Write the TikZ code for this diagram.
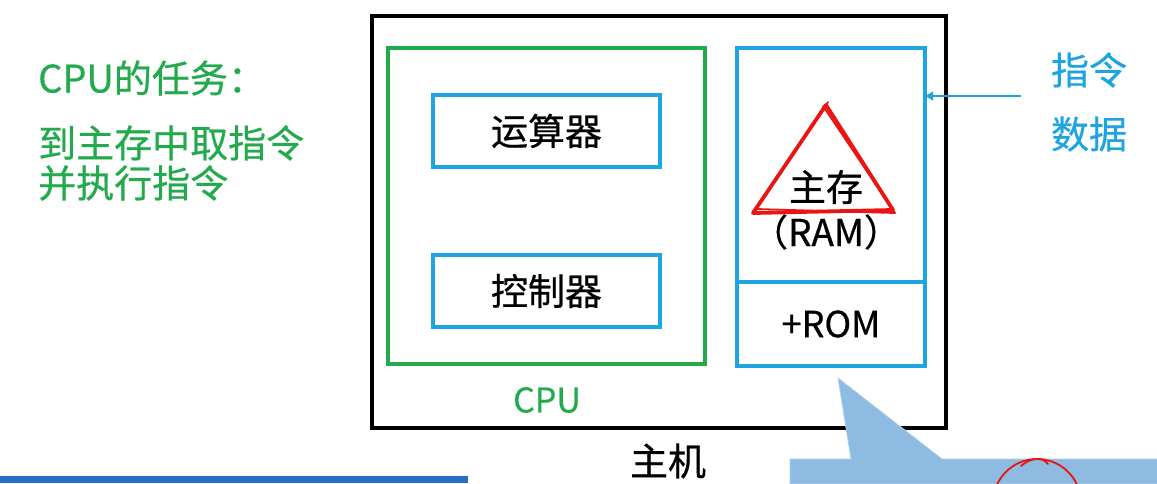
\documentclass[tikz,border=0pt]{standalone}
\usepackage{fontspec}
\setmainfont{Noto Sans CJK SC}[FakeBold=0.7, AutoFakeBold=0]
\newfontfamily\plainfont{Noto Sans CJK SC}[UprightFeatures={FakeBold=0.6}]
\usepackage{tikz}
\usetikzlibrary{arrows,positioning,calc}
\definecolor{CpuGreen}{RGB}{34,170,76}
\definecolor{BoxBlue}{RGB}{30,165,225}
\definecolor{NoteBlue}{RGB}{142,187,226}
\definecolor{BarBlue}{RGB}{40,110,200}
\definecolor{InkRed}{RGB}{235,20,20}
\tikzstyle{host} = [rectangle, draw, black, line width=4pt, inner sep=0pt, outer sep=0pt]
\tikzstyle{cpu} = [rectangle, draw=CpuGreen, line width=3.5pt, inner sep=0pt, outer sep=0pt]
\tikzstyle{unit} = [rectangle, draw=BoxBlue, line width=3.5pt, inner sep=0pt,
minimum width=227pt, minimum height=72pt,
font=\plainfont\fontsize{37}{40}\selectfont]
\tikzstyle{memory} = [rectangle, draw=BoxBlue, line width=3.5pt, inner sep=0pt, outer sep=0pt,
minimum width=188pt]
\tikzstyle{mem text} = [inner sep=0pt, font=\plainfont\fontsize{37}{40}\selectfont]
\tikzstyle{task text} = [text=CpuGreen, anchor=west, align=left, inner sep=0pt,
font=\plainfont\fontsize{38}{40}\selectfont]
\tikzstyle{note text} = [text=BoxBlue, inner sep=0pt, font=\plainfont\fontsize{38}{42}\selectfont]
\tikzstyle{sketch} = [draw=InkRed, line width=3.8pt, line join=round, line cap=round]

\begin{document}
\begin{tikzpicture}[x=1pt, y=-1pt, node distance=45pt]
	\useasboundingbox (0,0) rectangle (1157,483);

	% the host and its parts
	\node[host, minimum width=574pt, minimum height=412pt] (host) at (659,222) {};
	\node[cpu, minimum width=317pt, minimum height=316pt] (cpu) at (546.5,206) {};
	\node[unit] (alu) at (546.5,131) {运算器};
	\node[unit] (ctrl) at (546.5,291) {控制器};
	\node[memory, minimum height=234pt] (ram) at (831,165) {};
	\node[memory, minimum height=84pt, below=0pt of ram, font=\plainfont\fontsize{36}{40}\selectfont] (rom) {+ROM};
	\node[mem text] (mainmem) at (826,187) {主存};
	\node[mem text] (ramtag) [below of=mainmem] {（RAM）};

	\node[text=CpuGreen, font=\plainfont\fontsize{34}{38}\selectfont] (cpuname) at (547,400) {CPU};
	\node[font=\plainfont\fontsize{38}{40}\selectfont] (hostname) at (668,461) {主机};

	% what the cpu does
	\node[task text] (task) at (38,78) {CPU的任务：};
	\node[task text] (steps) at (38,163) {到主存中取指令\\并执行指令};

	% instructions and data go into memory
	\node[note text] (instr) at (1089,70) {指令};
	\node[note text] (data) [below of=instr, node distance=64pt] {数据};
	\coordinate (feed) at (1021,96);
	\draw[BoxBlue, line width=1.2pt, -triangle 60] (feed) -- (feed -| ram.east);

	% hand drawn marks
	\coordinate (apex) at (826,105);
	\coordinate (corner l) at (753,213);
	\coordinate (corner r) at (893,210);
	\draw[sketch] (apex) -- (corner l) -- (corner r) -- cycle;
	\draw[sketch, line width=1.8pt] ($(apex)+(2,-3)$) -- ($(corner l)+(3,-4)$) -- ($(corner r)+(2,3)$) -- ($(apex)+(-3,1)$);

	% slide leftovers along the bottom
	\fill[BarBlue] (0,476) rectangle (468,483);
	\coordinate (tip) at (838,378);
	\fill[NoteBlue, draw=NoteBlue!70!white, line width=0.8pt]
		(790,484) -- (790,459) -- (851,459) -- (tip) -- (942,459) -- (1158,459) -- (1158,484) -- cycle;
	\begin{scope}
		\clip (0,0) rectangle (1157,483);
		\draw[sketch, line width=1.8pt] (1037,503) circle (44);
		\draw[sketch, line width=1.8pt] (1021,466) .. controls (1030,458) and (1042,456) .. (1048,464);
	\end{scope}
\end{tikzpicture}
\end{document}
